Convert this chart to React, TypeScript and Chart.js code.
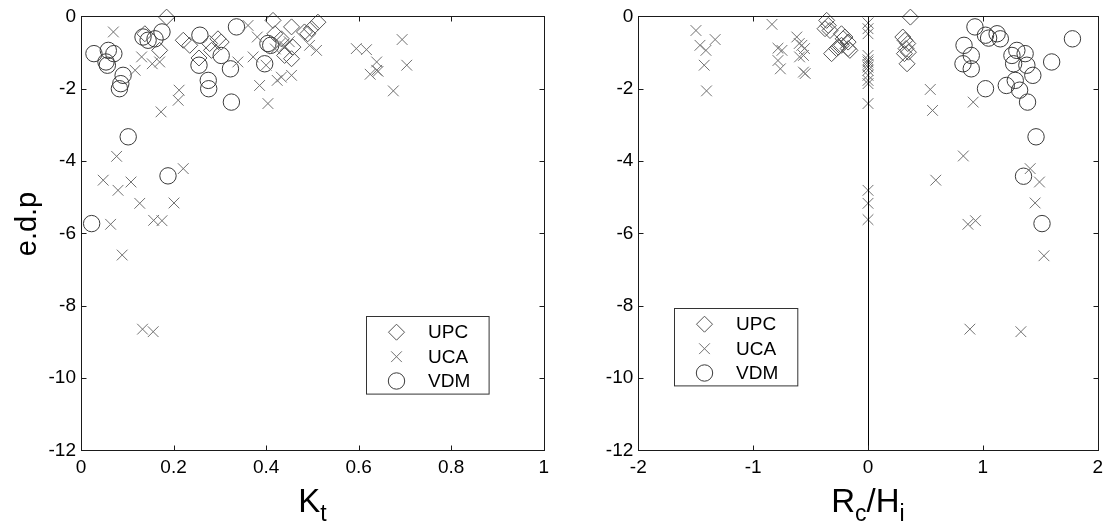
import React, { useEffect, useRef } from 'react';
import { Chart, registerables } from 'chart.js';

Chart.register(...registerables);

const FONT = '"Liberation Sans", Arial, Helvetica, sans-serif';

// ---------- Data: left panel (x = Kt, y = e.d.p) ----------
const upcKt = [0.185, 0.138, 0.17, 0.221, 0.235, 0.255, 0.278, 0.296, 0.303, 0.282, 0.415, 0.455, 0.483, 0.498, 0.512, 0.458, 0.44, 0.455, 0.419, 0.433, 0.49];
const upcEdpL = [-0.02, -0.48, -0.94, -0.66, -0.8, -1.15, -0.75, -0.62, -0.71, -0.94, -0.11, -0.29, -0.43, -0.34, -0.16, -0.85, -1.08, -1.17, -0.48, -0.62, -0.48];

const ucaKt = [0.07, 0.131, 0.154, 0.17, 0.117, 0.212, 0.21, 0.173, 0.339, 0.361, 0.381, 0.372, 0.386, 0.404, 0.424, 0.433, 0.455, 0.4, 0.43, 0.44, 0.45, 0.42, 0.494, 0.509, 0.595, 0.617, 0.694, 0.639, 0.639, 0.642, 0.625, 0.704, 0.675, 0.077, 0.221, 0.048, 0.08, 0.108, 0.127, 0.201, 0.157, 0.175, 0.064, 0.089, 0.133, 0.156];
const ucaEdpL = [-0.43, -1.12, -1.31, -1.26, -1.49, -2.04, -2.32, -2.64, -1.26, -0.25, -0.57, -1.12, -1.91, -2.41, -1.77, -1.68, -1.63, -1.35, -0.75, -0.82, -0.7, -0.9, -0.8, -0.94, -0.89, -0.92, -0.64, -1.26, -1.49, -1.52, -1.6, -1.35, -2.06, -3.87, -4.21, -4.53, -4.81, -4.58, -5.17, -5.16, -5.64, -5.65, -5.75, -6.6, -8.65, -8.72];

const vdmKt = [0.028, 0.059, 0.071, 0.054, 0.057, 0.091, 0.086, 0.083, 0.134, 0.145, 0.16, 0.175, 0.257, 0.303, 0.255, 0.323, 0.275, 0.276, 0.325, 0.336, 0.404, 0.397, 0.41, 0.102, 0.188, 0.023];
const vdmEdpL = [-1.03, -0.94, -1.03, -1.26, -1.35, -1.63, -1.86, -2.0, -0.57, -0.66, -0.62, -0.43, -0.52, -1.08, -1.35, -1.45, -1.77, -2.0, -2.37, -0.29, -0.75, -1.31, -0.8, -3.33, -4.41, -5.73];

// ---------- Data: right panel (x = Rc/Hi, y = e.d.p) ----------
const upcRcHi = [-0.36, -0.346, -0.374, -0.331, -0.231, -0.201, -0.173, -0.317, -0.274, -0.231, -0.173, -0.259, -0.216, -0.158, 0.369, 0.303, 0.322, 0.346, 0.331, 0.352, 0.317, 0.34];
const upcEdpR = [-0.11, -0.25, -0.34, -0.39, -0.48, -0.57, -0.71, -1.03, -0.89, -0.8, -0.89, -0.85, -0.62, -0.94, -0.02, -0.57, -0.66, -0.75, -0.89, -0.99, -1.03, -1.31];

const ucaRcHi = [-1.498, -1.331, -1.463, -1.411, -1.426, -1.406, -0.836, -0.784, -0.749, -0.784, -0.763, -0.62, -0.599, -0.576, -0.553, -0.596, -0.562, -0.562, -0.547, 0, 0, 0, 0, 0, 0, 0, 0, 0, 0, 0, 0, 0, 0, 0, 0, 0.542, 0.562, 0.916, 0.83, 1.412, 1.493, 0.59, 1.455, 0.87, 0.936, 1.532, 0.887, 1.331];
const ucaEdpR = [-0.39, -0.64, -0.8, -0.94, -1.35, -2.06, -0.22, -0.88, -0.94, -1.22, -1.45, -0.57, -0.75, -0.8, -0.89, -1.12, -1.08, -1.54, -1.58, -0.18, -0.34, -0.48, -1.08, -1.2, -1.26, -1.33, -1.4, -1.49, -1.63, -1.77, -1.86, -2.41, -4.81, -5.17, -5.62, -2.02, -2.6, -2.37, -3.86, -4.21, -4.58, -4.53, -5.16, -5.75, -5.65, -6.62, -8.65, -8.72];

const vdmRcHi = [0.931, 1.023, 1.124, 1.152, 1.05, 0.836, 0.899, 0.827, 0.899, 1.023, 1.296, 1.253, 1.368, 1.268, 1.383, 1.435, 1.204, 1.282, 1.32, 1.389, 1.599, 1.78, 1.463, 1.354, 1.515];
const vdmEdpR = [-0.29, -0.52, -0.48, -0.62, -0.6, -0.8, -1.08, -1.31, -1.45, -2.0, -0.94, -1.08, -1.03, -1.31, -1.35, -1.63, -1.91, -1.77, -2.04, -2.37, -1.26, -0.62, -3.33, -4.42, -5.73];

// ---------- Labels / ticks ----------
const seriesLabels = ['UPC', 'UCA', 'VDM'];
const edpRange = [-12, 0];
const edpStep = 2;
const ktRange = [0, 1];
const ktStep = 0.2;
const rcRange = [-2, 2];
const rcStep = 1;

const TICK_SIZE = 19;

const STYLES = [
  { pointStyle: 'rectRot', color: '#555555', radius: 8 },
  { pointStyle: 'crossRot', color: '#707070', radius: 7.6 },
  { pointStyle: 'circle', color: '#3a3a3a', radius: 8.2 },
];

function fmtTick(v: any) {
  return String(+(+v).toFixed(3));
}

function drawMarker(ctx: CanvasRenderingContext2D, style: string, x: number, y: number, r: number, color: string) {
  ctx.save();
  ctx.strokeStyle = color;
  ctx.lineWidth = 1;
  ctx.beginPath();
  if (style === 'rectRot') {
    ctx.moveTo(x - r, y);
    ctx.lineTo(x, y - r);
    ctx.lineTo(x + r, y);
    ctx.lineTo(x, y + r);
    ctx.closePath();
  } else if (style === 'crossRot') {
    const d = r * Math.SQRT1_2;
    ctx.moveTo(x - d, y - d);
    ctx.lineTo(x + d, y + d);
    ctx.moveTo(x + d, y - d);
    ctx.lineTo(x - d, y + d);
  } else {
    ctx.arc(x, y, r, 0, Math.PI * 2);
  }
  ctx.stroke();
  ctx.restore();
}

function drawSubText(ctx: CanvasRenderingContext2D, parts: [string, boolean][], cx: number, baseline: number, size: number, subSize: number, subDrop: number) {
  ctx.save();
  ctx.fillStyle = '#000';
  ctx.textBaseline = 'alphabetic';
  ctx.textAlign = 'left';
  let total = 0;
  const widths = parts.map(([t, sub]) => {
    ctx.font = `${sub ? subSize : size}px ${FONT}`;
    const w = ctx.measureText(t).width;
    total += w;
    return w;
  });
  let x = cx - total / 2;
  parts.forEach(([t, sub], i) => {
    ctx.font = `${sub ? subSize : size}px ${FONT}`;
    ctx.fillText(t, x, sub ? baseline + subDrop : baseline);
    x += widths[i];
  });
  ctx.restore();
}

const framePlugin = {
  id: 'matlabFrame',
  afterDatasetsDraw(chart: any, _args: any, opts: any) {
    const { ctx, chartArea: a, scales } = chart;
    const L = Math.round(a.left) + 0.5;
    const R = Math.round(a.right) + 0.5;
    const T = Math.round(a.top) + 0.5;
    const B = Math.round(a.bottom) + 0.5;
    ctx.save();
    ctx.strokeStyle = '#1a1a1a';
    ctx.lineWidth = 1;
    if (opts.zeroLine) {
      const x0 = Math.round(scales.x.getPixelForValue(0)) + 0.5;
      ctx.strokeStyle = '#000';
      ctx.beginPath();
      ctx.moveTo(x0, T);
      ctx.lineTo(x0, B);
      ctx.stroke();
      ctx.strokeStyle = '#1a1a1a';
    }
    ctx.strokeRect(L, T, R - L, B - T);
    const tl = 5;
    ctx.beginPath();
    scales.x.ticks.forEach((t: any) => {
      const px = Math.round(scales.x.getPixelForValue(t.value)) + 0.5;
      ctx.moveTo(px, B);
      ctx.lineTo(px, B - tl);
      ctx.moveTo(px, T);
      ctx.lineTo(px, T + tl);
    });
    scales.y.ticks.forEach((t: any) => {
      const py = Math.round(scales.y.getPixelForValue(t.value)) + 0.5;
      ctx.moveTo(L, py);
      ctx.lineTo(L + tl, py);
      ctx.moveTo(R, py);
      ctx.lineTo(R - tl, py);
    });
    ctx.stroke();

    // legend
    const lg = opts.legend;
    const bx = Math.round(a.left + lg.dx) + 0.5;
    const by = Math.round(a.top + lg.dy) + 0.5;
    ctx.fillStyle = '#fff';
    ctx.fillRect(bx, by, lg.w, lg.h);
    ctx.strokeStyle = '#333';
    ctx.strokeRect(bx, by, lg.w, lg.h);
    const rows = [15.7, 40.2, 64.5];
    chart.data.datasets.forEach((ds: any, i: number) => {
      const st = STYLES[i];
      const y = by + rows[i];
      drawMarker(ctx, st.pointStyle, bx + 30, y, st.radius, st.color);
      ctx.fillStyle = '#000';
      ctx.font = `19px ${FONT}`;
      ctx.textAlign = 'left';
      ctx.textBaseline = 'middle';
      ctx.fillText(ds.label, bx + 61.6, y + 1);
    });
    ctx.restore();

    // axis titles
    const cx = (a.left + a.right) / 2;
    drawSubText(ctx, opts.xTitle, cx, 512, 33, 23, 9);
    if (opts.yTitle) {
      ctx.save();
      ctx.translate(28, 224);
      ctx.rotate(-Math.PI / 2);
      ctx.font = `29px ${FONT}`;
      ctx.fillStyle = '#000';
      ctx.textAlign = 'center';
      ctx.textBaseline = 'middle';
      ctx.fillText(opts.yTitle, 0, 0);
      ctx.restore();
    }
  },
};

type Panel = {
  xs: number[][];
  ys: number[][];
  xRange: number[];
  xStep: number;
  yAxisWidth: number;
  padRight: number;
  zeroLine: boolean;
  legend: { dx: number; dy: number; w: number; h: number };
  xTitle: [string, boolean][];
  yTitle: string | null;
};

function makeConfig(p: Panel): any {
  return {
    type: 'scatter',
    data: {
      datasets: seriesLabels.map((label, i) => ({
        label,
        data: p.xs[i].map((x, j) => ({ x, y: p.ys[i][j] })),
        pointStyle: STYLES[i].pointStyle,
        pointRadius: STYLES[i].radius,
        pointBorderWidth: 1,
        borderColor: STYLES[i].color,
        backgroundColor: 'rgba(0,0,0,0)',
        showLine: false,
        clip: false,
      })),
    },
    options: {
      animation: false,
      responsive: false,
      maintainAspectRatio: false,
      events: [],
      layout: { padding: { left: 0, top: 16, right: p.padRight, bottom: 0 } },
      plugins: {
        legend: { display: false },
        tooltip: { enabled: false },
        matlabFrame: { zeroLine: p.zeroLine, legend: p.legend, xTitle: p.xTitle, yTitle: p.yTitle },
      },
      scales: {
        x: {
          type: 'linear',
          min: p.xRange[0],
          max: p.xRange[1],
          grid: { display: false, drawTicks: false },
          border: { display: false },
          ticks: {
            stepSize: p.xStep,
            autoSkip: false,
            maxRotation: 0,
            padding: 6,
            color: '#000',
            font: { family: FONT, size: TICK_SIZE },
            callback: fmtTick,
          },
          afterFit: (s: any) => {
            s.height = 532 - 450.3;
          },
        },
        y: {
          type: 'linear',
          min: edpRange[0],
          max: edpRange[1],
          grid: { display: false, drawTicks: false },
          border: { display: false },
          ticks: {
            stepSize: edpStep,
            autoSkip: false,
            padding: 5,
            color: '#000',
            font: { family: FONT, size: TICK_SIZE },
            callback: fmtTick,
          },
          afterFit: (s: any) => {
            s.width = p.yAxisWidth;
          },
        },
      },
    },
    plugins: [framePlugin],
  };
}

function ChartPanel({ panel, left, width }: { panel: Panel; left: number; width: number }) {
  const ref = useRef<HTMLCanvasElement | null>(null);
  useEffect(() => {
    if (!ref.current) return;
    const chart = new Chart(ref.current, makeConfig(panel));
    return () => chart.destroy();
  }, [panel]);
  return (
    <canvas
      ref={ref}
      width={width}
      height={532}
      style={{ position: 'absolute', left, top: 0, width, height: 532 }}
    />
  );
}

const leftPanel: Panel = {
  xs: [upcKt, ucaKt, vdmKt],
  ys: [upcEdpL, ucaEdpL, vdmEdpL],
  xRange: ktRange,
  xStep: ktStep,
  yAxisWidth: 81,
  padRight: 555 - 544.5,
  zeroLine: false,
  legend: { dx: 284.7, dy: 299.7, w: 122.6, h: 77.6 },
  xTitle: [['K', false], ['t', true]],
  yTitle: 'e.d.p',
};

const rightPanel: Panel = {
  xs: [upcRcHi, ucaRcHi, vdmRcHi],
  ys: [upcEdpR, ucaEdpR, vdmEdpR],
  xRange: rcRange,
  xStep: rcStep,
  yAxisWidth: 638.3 - 555,
  padRight: 1109 - 1101,
  zeroLine: true,
  legend: { dx: 35.7, dy: 291.3, w: 123.3, h: 77.4 },
  xTitle: [['R', false], ['c', true], ['/H', false], ['i', true]],
  yTitle: null,
};

export default function App() {
  return (
    <div style={{ position: 'absolute', left: 0, top: 0, width: 1109, height: 532, background: '#fff' }}>
      <ChartPanel panel={leftPanel} left={0} width={555} />
      <ChartPanel panel={rightPanel} left={555} width={554} />
    </div>
  );
}
